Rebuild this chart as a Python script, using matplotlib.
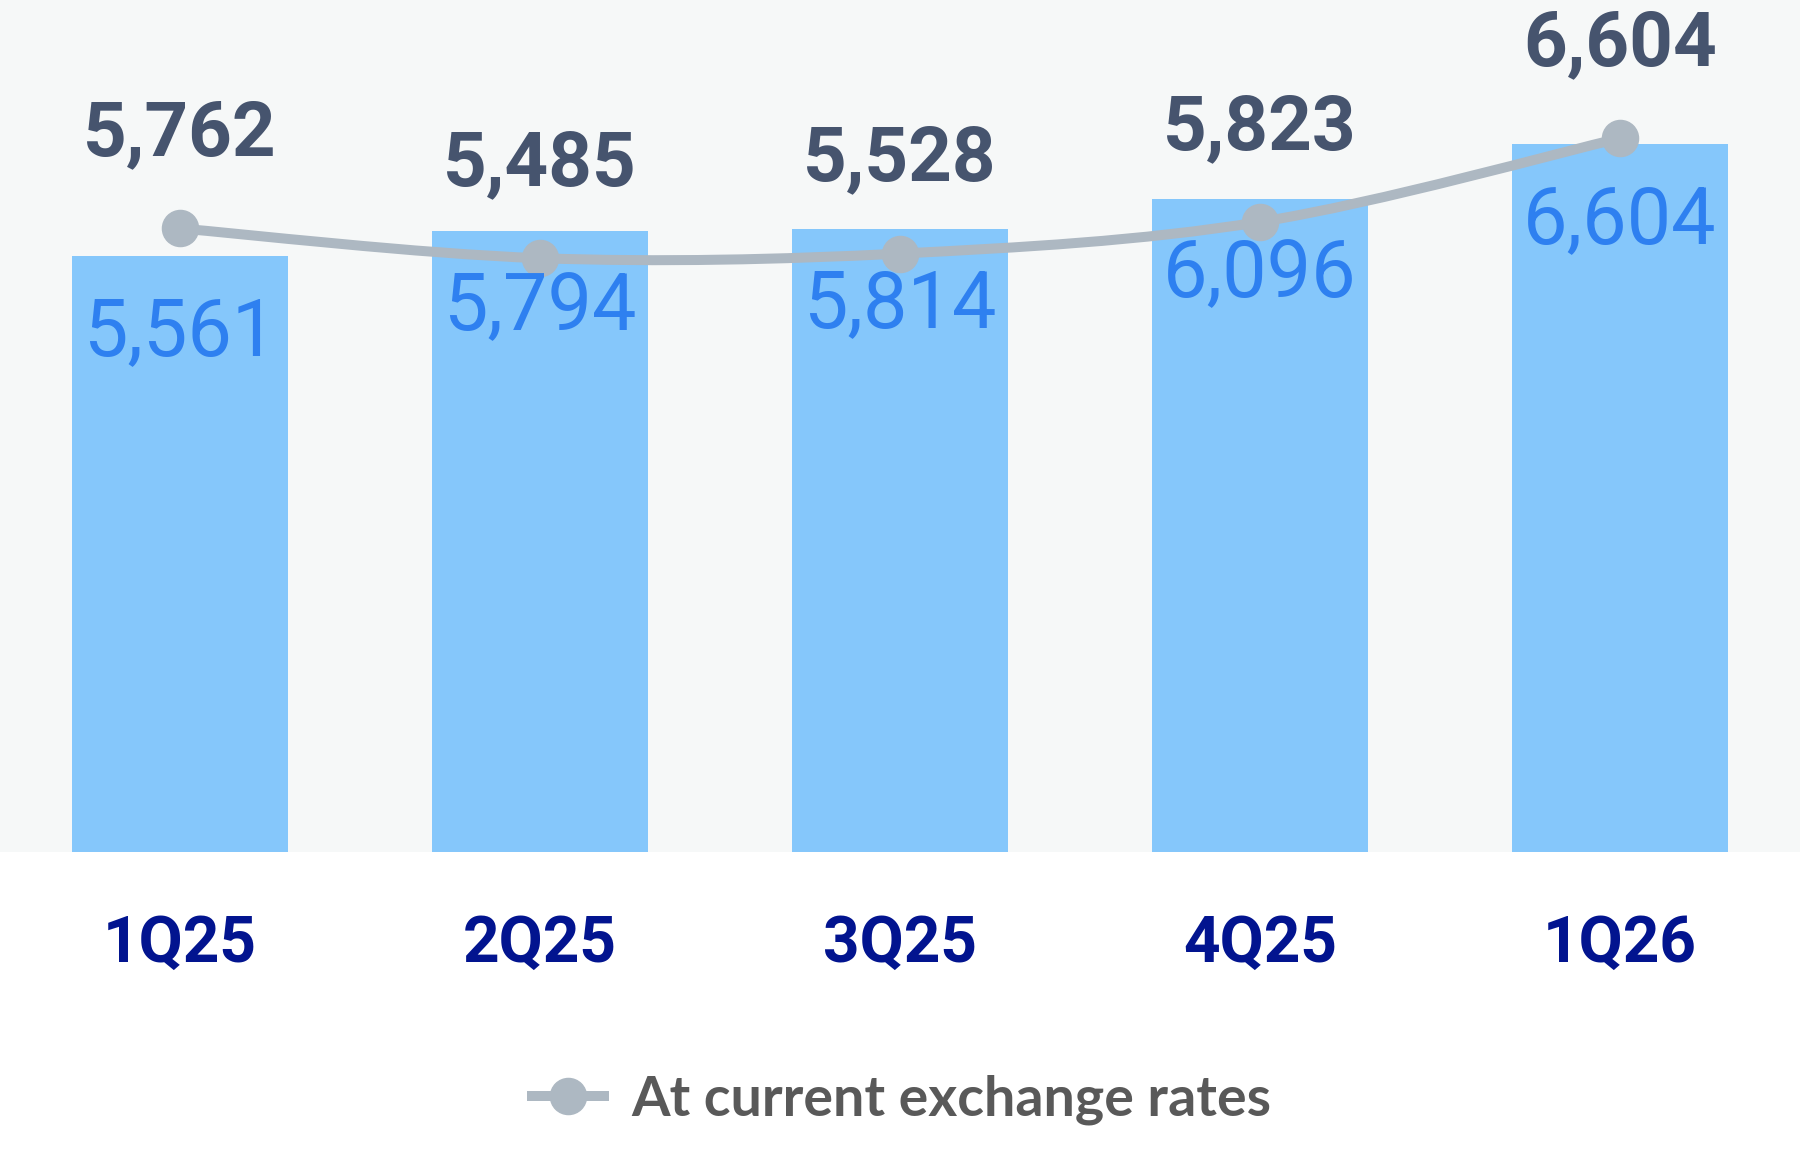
import matplotlib
matplotlib.use("Agg")
import matplotlib.pyplot as plt
import matplotlib.transforms as mtransforms
from matplotlib.path import Path
from matplotlib.patches import PathPatch
from matplotlib.lines import Line2D
import numpy as np

# chart data
quarters = ["1Q25", "2Q25", "3Q25", "4Q25", "1Q26"]
bar_values = [5561, 5794, 5814, 6096, 6604]
current_fx = [5762, 5485, 5528, 5823, 6604]
legend_label = "At current exchange rates"

# colours
bg_color = "#f6f8f8"
bar_color = "#85c7fb"
line_color = "#adb8c2"
dark_label = "#46546e"
blue_label = "#2e80f0"
tick_color = "#02148f"
legend_color = "#595959"

plt.rcParams["font.family"] = ["Roboto", "DejaVu Sans"]

fig = plt.figure(figsize=(18, 11.52), dpi=100, facecolor="white")
ax = fig.add_axes([0, 0.2604, 1, 0.7396])
ax.set_facecolor(bg_color)

x = np.arange(len(quarters))
ax.bar(x, bar_values, width=0.6, color=bar_color, zorder=1)

# line sits a few pixels above the bar scale in the original
line_tr = mtransforms.offset_copy(ax.transData, fig=fig, x=0, y=6, units="dots")

# smooth curve through the points (Catmull-Rom as cubic bezier)
pts = np.column_stack([x, current_fx]).astype(float)
ext = np.vstack([pts[0], pts, pts[-1]])
verts = [tuple(pts[0])]
codes = [Path.MOVETO]
for i in range(len(pts) - 1):
    p0, p1, p2, p3 = ext[i], ext[i + 1], ext[i + 2], ext[i + 3]
    c1 = p1 + (p2 - p0) / 6
    c2 = p2 - (p3 - p1) / 6
    verts += [tuple(c1), tuple(c2), tuple(p2)]
    codes += [Path.CURVE4] * 3
ax.add_patch(PathPatch(Path(verts, codes), fill=False, edgecolor=line_color,
                       lw=7.2, capstyle="round", zorder=2, transform=line_tr))
ax.plot(x, current_fx, "o", color=line_color, markersize=26, zorder=3,
        transform=line_tr)

for xi, v in zip(x, current_fx):
    ax.annotate(f"{v:,}", (xi, v), xytext=(0, 57), textcoords="offset points",
                ha="center", va="baseline", fontsize=55, fontweight="bold",
                color=dark_label, annotation_clip=False, zorder=5)

for xi, v in zip(x, bar_values):
    ax.annotate(f"{v:,}", (xi, v), xytext=(0, -71), textcoords="offset points",
                ha="center", va="baseline", fontsize=57, color=blue_label,
                zorder=4)

for xi, q in zip(x, quarters):
    ax.text(xi, -0.129, q, transform=ax.get_xaxis_transform(), ha="center",
            va="baseline", fontsize=46, fontweight="bold", color=tick_color)

ax.set_xlim(-0.5, 4.5)
ax.set_ylim(0, 7950)
ax.set_xticks([])
ax.set_yticks([])
for s in ax.spines.values():
    s.set_visible(False)

handle = Line2D([], [], color=line_color, lw=7.2, marker="o", markersize=26)
fig.legend([handle], [legend_label], loc="center", bbox_to_anchor=(0.501, 0.045),
           frameon=False, handlelength=1.3, handletextpad=0.5,
           prop={"family": ["Lato", "DejaVu Sans"], "weight": "bold", "size": 40},
           labelcolor=legend_color)

fig.savefig("out.png", dpi=100, facecolor="white")
